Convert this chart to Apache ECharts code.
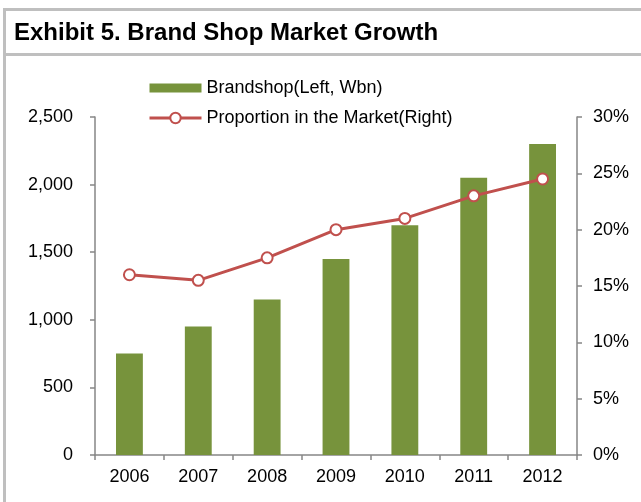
<!DOCTYPE html>
<html>
<head>
<meta charset="utf-8">
<style>
  html, body { margin: 0; padding: 0; background: #fff; }
  #chart { width: 641px; height: 502px; }
</style>
<script src="https://cdn.jsdelivr.net/npm/echarts@6/dist/echarts.min.js"></script>
</head>
<body>
<div id="chart"></div>
<script>
// Brand shop sales (KRW bn) and share of the cosmetics market, 2006-2012
const years = ['2006', '2007', '2008', '2009', '2010', '2011', '2012'];
const brandshopSales = [750, 950, 1150, 1450, 1700, 2050, 2300];
const marketShare = [16, 15.5, 17.5, 20, 21, 23, 24.5];
const leftTicks = [0, 500, 1000, 1500, 2000, 2500];
const rightTicks = [0, 5, 10, 15, 20, 25, 30];

const FONT = 'Liberation Sans, Arial, sans-serif';
const axisGray = '#868686';
const frameGray = '#bfbfbf';

const chart = echarts.init(document.getElementById('chart'), null, { renderer: 'canvas' });

chart.setOption({
  animation: false,
  backgroundColor: '#fff',
  title: {
    text: 'Exhibit 5. Brand Shop Market Growth',
    left: 9,
    top: 16,
    textStyle: { fontFamily: FONT, fontSize: 24, fontWeight: 'bold', color: '#000' }
  },
  graphic: [
    // frame around the exhibit and the rule under the heading
    { type: 'rect', shape: { x: 3, y: 8, width: 660, height: 3 }, style: { fill: frameGray } },
    { type: 'rect', shape: { x: 3, y: 8, width: 3, height: 500 }, style: { fill: frameGray } },
    { type: 'rect', shape: { x: 3, y: 53, width: 660, height: 3 }, style: { fill: frameGray } }
  ],
  legend: {
    orient: 'vertical',
    left: 143,
    top: 74,
    itemGap: 12,
    itemWidth: 52,
    itemHeight: 13,
    symbolKeepAspect: true,
    lineStyle: { width: 3 },
    textStyle: { fontFamily: FONT, fontSize: 18, color: '#000' },
    data: [
      // flat swatch for the bars, keeping its aspect inside the taller icon box
      { name: 'Brandshop(Left, Wbn)', icon: 'path://M0,0H52V9H0Z' },
      { name: 'Proportion in the Market(Right)' }
    ]
  },
  grid: { left: 95, right: 64, top: 117, bottom: 47, containLabel: false },
  xAxis: {
    type: 'category',
    data: years,
    axisLine: { lineStyle: { color: axisGray, width: 1.5 } },
    axisTick: { show: true, length: 5, lineStyle: { color: axisGray, width: 1.5 } },
    axisLabel: { fontFamily: FONT, fontSize: 18, color: '#000', margin: 13 }
  },
  yAxis: [
    {
      type: 'value',
      min: leftTicks[0],
      max: leftTicks[leftTicks.length - 1],
      interval: 500,
      axisLine: { show: true, lineStyle: { color: axisGray, width: 1.5 } },
      axisTick: { show: true, length: 5, lineStyle: { color: axisGray, width: 1.5 } },
      splitLine: { show: false },
      axisLabel: {
        fontFamily: FONT, fontSize: 18, color: '#000', margin: 22,
        formatter: v => v.toLocaleString('en-US')
      }
    },
    {
      type: 'value',
      min: rightTicks[0],
      max: rightTicks[rightTicks.length - 1],
      interval: 5,
      position: 'right',
      axisLine: { show: true, lineStyle: { color: axisGray, width: 1.5 } },
      axisTick: { show: true, length: 5, lineStyle: { color: axisGray, width: 1.5 } },
      splitLine: { show: false },
      axisLabel: {
        fontFamily: FONT, fontSize: 18, color: '#000', margin: 16,
        formatter: v => v + '%'
      }
    }
  ],
  series: [
    {
      name: 'Brandshop(Left, Wbn)',
      type: 'bar',
      yAxisIndex: 0,
      data: brandshopSales,
      barWidth: '39%',
      itemStyle: { color: '#77933C' }
    },
    {
      name: 'Proportion in the Market(Right)',
      type: 'line',
      yAxisIndex: 1,
      data: marketShare,
      symbol: 'circle',
      symbolSize: 11,
      lineStyle: { color: '#C0504D', width: 3 },
      itemStyle: { color: '#fff', borderColor: '#C0504D', borderWidth: 2 }
    }
  ]
});
</script>
</body>
</html>
